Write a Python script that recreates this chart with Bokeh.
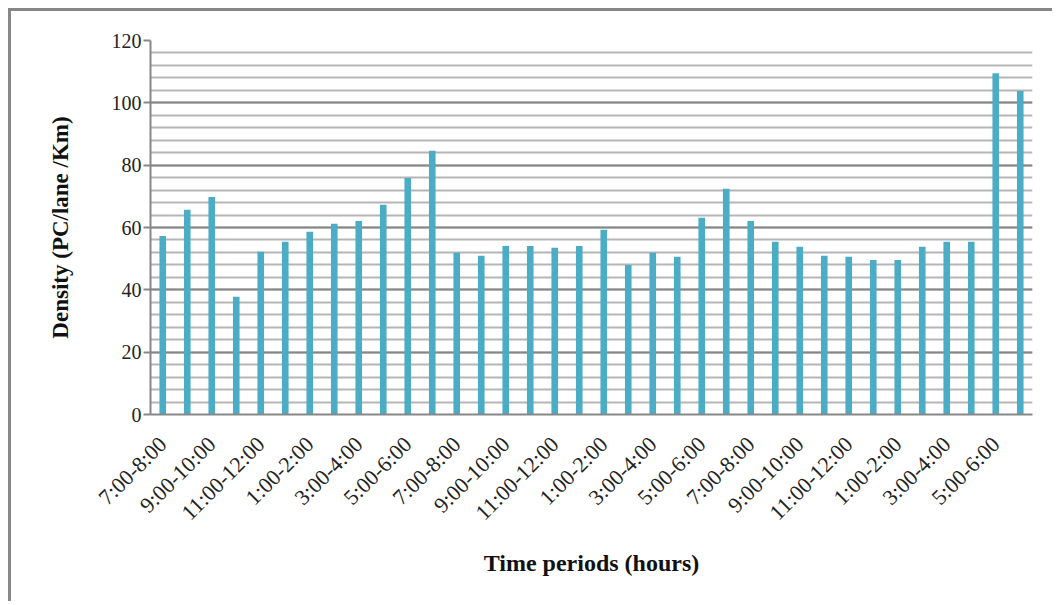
import math
from bokeh.plotting import figure
from bokeh.models import Range1d, FixedTicker, SingleIntervalTicker
from bokeh.embed import file_html
from bokeh.resources import INLINE

periods = ["7:00-8:00", "8:00-9:00", "9:00-10:00", "10:00-11:00", "11:00-12:00",
           "12:00-1:00", "1:00-2:00", "2:00-3:00", "3:00-4:00", "4:00-5:00",
           "5:00-6:00", "6:00-7:00"]
categories = periods * 3
density = [57.3, 65.7, 69.8, 37.8, 52.2, 55.4, 58.6, 61.2, 62.1, 67.3, 75.9, 84.6,
           51.9, 50.9, 54.1, 54.1, 53.5, 54.1, 59.3, 48.0, 51.9, 50.6, 63.1, 72.4,
           62.1, 55.4, 53.8, 50.9, 50.6, 49.6, 49.6, 53.8, 55.4, 55.4, 109.5, 103.8]
y_ticks = [0, 20, 40, 60, 80, 100, 120]

idx = list(range(len(categories)))

p = figure(width=1044, height=593, output_backend="svg", toolbar_location=None,
           x_range=Range1d(-0.5, len(categories) - 0.5), y_range=Range1d(0, 120),
           min_border_left=139, min_border_top=29, min_border_right=23,
           min_border_bottom=190)
p.styles = {"margin-left": "8px", "margin-top": "8px",
            "border-left": "3px solid #878787", "border-top": "3px solid #878787"}
p.outline_line_color = None
p.background_fill_color = "white"
p.border_fill_color = "white"

p.vbar(x=idx, top=density, width=0.27, bottom=0, fill_color="#4BACC6",
       line_color=None)

shown = idx[::2]
p.xaxis.ticker = FixedTicker(ticks=shown)
p.xaxis.major_label_overrides = {i: categories[i] for i in shown}
p.xaxis.major_label_orientation = math.pi / 4
p.xaxis.major_tick_line_color = None
p.xaxis.minor_tick_line_color = None
p.xaxis.axis_line_color = "#878787"
p.xaxis.axis_line_width = 2
p.xaxis.major_label_text_font = "Liberation Serif"
p.xaxis.major_label_text_font_size = "22px"
p.xaxis.major_label_text_color = "#222222"
p.xaxis.major_label_standoff = 20
p.xaxis.axis_label = "Time periods (hours)"
p.xaxis.axis_label_text_font = "Liberation Serif"
p.xaxis.axis_label_text_font_style = "bold"
p.xaxis.axis_label_text_font_size = "24px"
p.xaxis.axis_label_text_color = "#111111"
p.xaxis.axis_label_standoff = 13

p.yaxis.ticker = SingleIntervalTicker(interval=20, num_minor_ticks=5)
p.yaxis.major_label_overrides = {v: str(v) for v in y_ticks}
p.yaxis.axis_line_color = "#878787"
p.yaxis.axis_line_width = 2
p.yaxis.major_tick_line_color = "#878787"
p.yaxis.major_tick_line_width = 2
p.yaxis.major_tick_out = 7
p.yaxis.major_tick_in = 0
p.yaxis.minor_tick_line_color = None
p.yaxis.major_label_text_font = "Liberation Serif"
p.yaxis.major_label_text_font_size = "20px"
p.yaxis.major_label_text_color = "#222222"
p.yaxis.major_label_standoff = 2
p.yaxis.axis_label = "Density (PC/lane /Km)"
p.yaxis.axis_label_text_font = "Liberation Serif"
p.yaxis.axis_label_text_font_style = "bold"
p.yaxis.axis_label_text_font_size = "23px"
p.yaxis.axis_label_text_color = "#111111"
p.yaxis.axis_label_standoff = 36

p.xgrid.grid_line_color = None
p.ygrid.grid_line_color = "#878787"
p.ygrid.grid_line_width = 2
p.ygrid.minor_grid_line_color = "#b5b5b5"
p.ygrid.minor_grid_line_width = 2

open("out.html", "w").write(file_html(p, INLINE))
